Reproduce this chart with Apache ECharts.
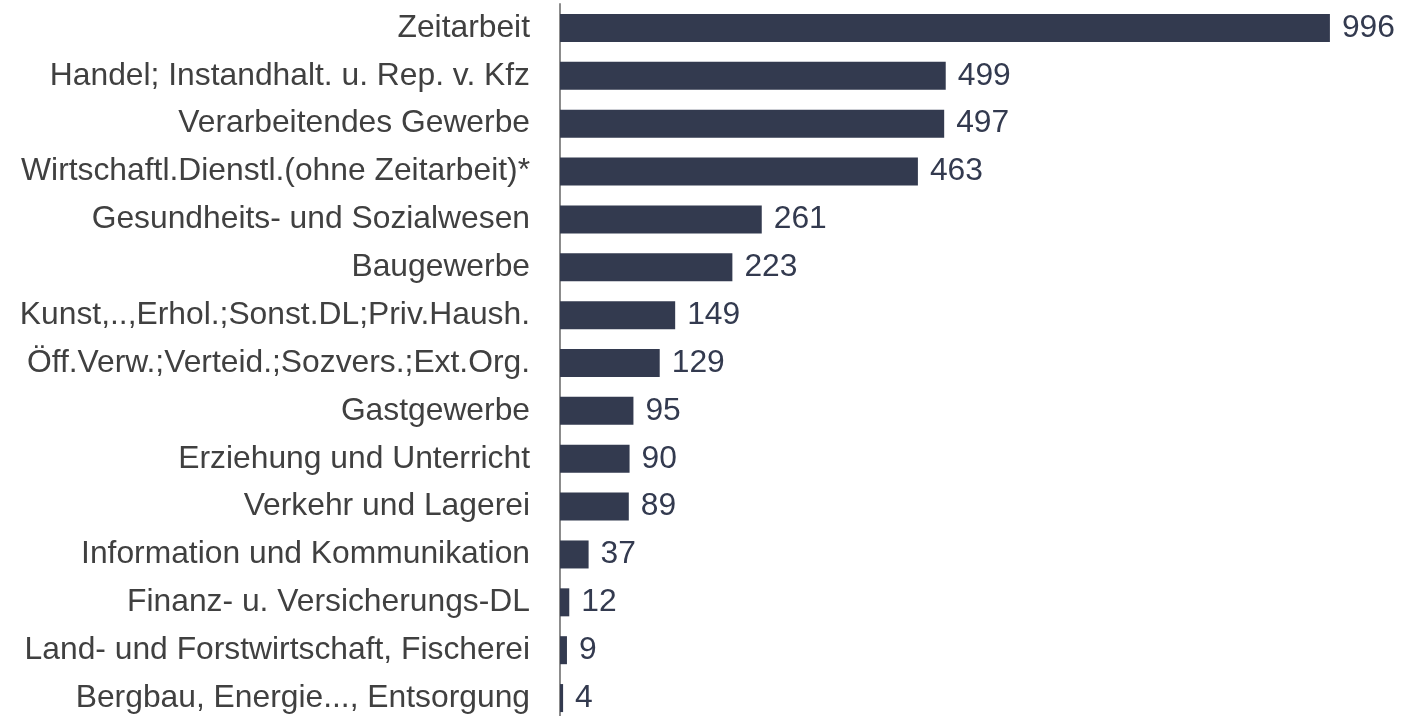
<!DOCTYPE html>
<html><head><meta charset="utf-8">
<script src="https://cdn.jsdelivr.net/npm/echarts@6/dist/echarts.min.js"></script>
<style>html,body{margin:0;padding:0;background:#fff;overflow:hidden}#c{width:1404px;height:730px}</style>
</head><body><div id="c"></div>
<script>
const categories = [
  "Zeitarbeit",
  "Handel; Instandhalt. u. Rep. v. Kfz",
  "Verarbeitendes Gewerbe",
  "Wirtschaftl.Dienstl.(ohne Zeitarbeit)*",
  "Gesundheits- und Sozialwesen",
  "Baugewerbe",
  "Kunst,..,Erhol.;Sonst.DL;Priv.Haush.",
  "Öff.Verw.;Verteid.;Sozvers.;Ext.Org.",
  "Gastgewerbe",
  "Erziehung und Unterricht",
  "Verkehr und Lagerei",
  "Information und Kommunikation",
  "Finanz- u. Versicherungs-DL",
  "Land- und Forstwirtschaft, Fischerei",
  "Bergbau, Energie..., Entsorgung"
];
const values = [996, 499, 497, 463, 261, 223, 149, 129, 95, 90, 89, 37, 12, 9, 4];

const chart = echarts.init(document.getElementById('c'));
chart.setOption({
  animation: false,
  grid: { left: 560, top: 4, width: 773, height: 718, containLabel: false },
  xAxis: { type: 'value', min: 0, max: 1000, show: false },
  yAxis: {
    type: 'category', data: categories, inverse: true,
    axisLine: { show: true, lineStyle: { color: '#8c8c8c', width: 2 } },
    axisTick: { show: false },
    axisLabel: { color: '#404040', fontSize: 31.8, fontFamily: 'Liberation Sans, Arial, sans-serif', margin: 30 }
  },
  series: [{
    type: 'bar', data: values, barWidth: '58.5%',
    itemStyle: { color: '#333a4f' },
    label: { show: true, position: 'right', distance: 12, color: '#333a4f', fontSize: 31.8, fontFamily: 'Liberation Sans, Arial, sans-serif' }
  }]
});
</script></body></html>
